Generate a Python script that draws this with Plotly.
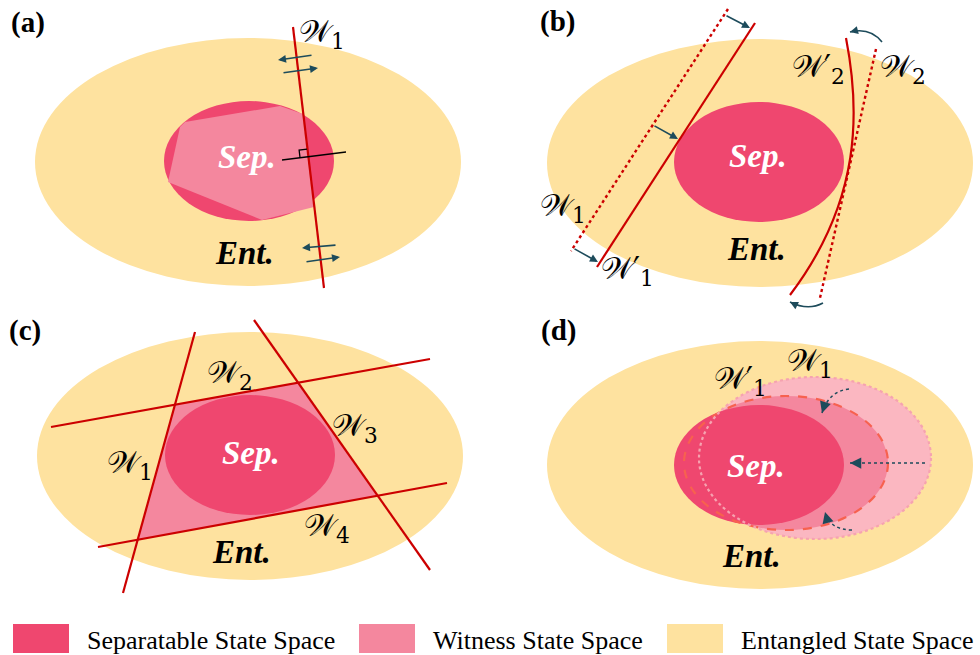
import plotly.graph_objects as go

W, H = 980, 655

# colours
SEP = "#EF476F"
WIT = "#F4879E"
ENT = "#FEE29F"
WIT_LIGHT = "#FBB7C1"
RED = "#CC0000"
TEAL = "#1D4B5B"
SERIF = "Liberation Serif"
SCRIPT = "DejaVu Serif"

# ---- geometry of the four panels (pixel space, y grows downward) ----
panel_names = ["(a)", "(b)", "(c)", "(d)"]
panel_label_xy = [(28, 22), (557, 21), (25, 330), (558, 330)]
ent_ellipses = [(248, 162, 213, 124), (760, 163, 213, 124),
                (250, 456, 213, 124), (760, 465, 213, 124)]
sep_ellipses = [(249, 161, 85, 60), (759, 162, 85, 60),
                (250, 455, 85, 60), (759, 465, 85, 60)]
sep_text_xy = [(247, 157), (758, 156), (251, 453), (756, 466)]
ent_text_xy = [(244, 253), (756, 249), (241, 552), (751, 556)]

# (a) one witness hyperplane and the witness region it cuts
a_witness_poly = [(185, 122), (280, 106), (303, 114), (314, 207),
                  (262, 220), (168, 182), (180, 127)]
a_witness_line = [(293, 27), (324, 288)]
a_normal_line = [(282, 160), (346, 152)]
a_corner = (308, 157)
a_arrows = [((313, 55), (278, 60)), ((282, 73), (318, 68)),
            ((337, 245), (302, 248)), ((305, 262), (340, 257))]

# (b) optimisation: shifting and rotating witnesses
b_w1_line = [(728, 9), (571, 251)]
b_w1p_line = [(755, 23), (597, 267)]
b_w2_line = [(876, 49), (820, 298)]
b_w2p_curve = [(846, 38), (860, 110), (862, 200), (790, 295)]
b_shift_arrows = [((725, 15), (750, 28)), ((653, 125), (678, 139)),
                  ((573, 248), (598, 262))]
b_turn_arrows = [[(882, 42), (870, 27), (850, 32)],
                 [(823, 303), (808, 311), (790, 302)]]

# (c) four witnesses bounding the separable set
c_lines = [[(195, 332), (123, 593)],   # W1
           [(51, 427), (430, 359)],    # W2
           [(254, 320), (430, 570)],   # W3
           [(98, 547), (447, 483)]]    # W4

# (d) nonlinear witness shrinking towards the separable set
d_w1_ellipse = (815, 458, 116, 81)
d_w1p_ellipse = (786, 463, 102, 67)
d_straight_arrow = ((925, 463), (850, 463))
d_curved_arrows = [[(849, 389), (829, 391), (822, 413)],
                   [(852, 530), (830, 530), (825, 512)]]

# witness labels: (text, x, y)
w_labels = [
    ("𝒲<sub>1</sub>", 322, 33),
    ("𝒲<sub>1</sub>", 563, 207),
    ("𝒲′<sub>1</sub>", 627, 270),
    ("𝒲′<sub>2</sub>", 818, 68),
    ("𝒲<sub>2</sub>", 903, 68),
    ("𝒲<sub>2</sub>", 230, 374),
    ("𝒲<sub>3</sub>", 355, 427),
    ("𝒲<sub>1</sub>", 130, 464),
    ("𝒲<sub>4</sub>", 327, 527),
    ("𝒲′<sub>1</sub>", 740, 380),
    ("𝒲<sub>1</sub>", 810, 362),
]

# legend
legend_labels = ["Separatable State Space", "Witness State Space", "Entangled State Space"]
legend_colors = [SEP, WIT, ENT]
legend_x = [13, 359, 667]


def ellipse(e, fill, line=None):
    cx, cy, rx, ry = e
    d = dict(type="circle", xref="x", yref="y",
             x0=cx - rx, x1=cx + rx, y0=cy - ry, y1=cy + ry,
             fillcolor=fill, layer="above")
    d["line"] = line if line else dict(width=0)
    return d


def poly(pts, fill):
    p = "M " + " L ".join(f"{x},{y}" for x, y in pts) + " Z"
    return dict(type="path", path=p, xref="x", yref="y",
                fillcolor=fill, line=dict(width=0), layer="above")


def seg(p, q, color, width=2.2, dash="solid"):
    return dict(type="line", xref="x", yref="y", x0=p[0], y0=p[1], x1=q[0], y1=q[1],
                line=dict(color=color, width=width, dash=dash), layer="above")


def qcurve(pts, color, width=1.6, dash="solid"):
    (x0, y0), (cx, cy), (x1, y1) = pts
    return dict(type="path", path=f"M {x0},{y0} Q {cx},{cy} {x1},{y1}",
                xref="x", yref="y", line=dict(color=color, width=width, dash=dash),
                layer="above")


def intersect(l1, l2):
    (x1, y1), (x2, y2) = l1
    (x3, y3), (x4, y4) = l2
    den = (x1 - x2) * (y3 - y4) - (y1 - y2) * (x3 - x4)
    t = ((x1 - x3) * (y3 - y4) - (y1 - y3) * (x3 - x4)) / den
    return (x1 + t * (x2 - x1), y1 + t * (y2 - y1))


shapes = []
annotations = []

# entangled backgrounds
for e in ent_ellipses:
    shapes.append(ellipse(e, ENT))

# (a)
shapes.append(ellipse(sep_ellipses[0], SEP))
shapes.append(poly(a_witness_poly, WIT))
# (b)
shapes.append(ellipse(sep_ellipses[1], SEP))
# (c) witness region = polygon of consecutive line intersections
c_quad = [intersect(c_lines[0], c_lines[1]), intersect(c_lines[1], c_lines[2]),
          intersect(c_lines[2], c_lines[3]), intersect(c_lines[3], c_lines[0])]
shapes.append(poly(c_quad, WIT))
shapes.append(ellipse(sep_ellipses[2], SEP))
# (d)
shapes.append(ellipse(d_w1_ellipse, WIT_LIGHT))
shapes.append(ellipse(d_w1p_ellipse, WIT))
shapes.append(ellipse(sep_ellipses[3], SEP))
shapes.append(ellipse(d_w1p_ellipse, "rgba(0,0,0,0)",
                      dict(color="#F7614F", width=2.2, dash="dash")))
shapes.append(ellipse(d_w1_ellipse, "rgba(0,0,0,0)",
                      dict(color="#F6A3B0", width=2.2, dash="dot")))

# (a) lines
shapes.append(seg(*a_witness_line, RED, 2.2))
shapes.append(seg(*a_normal_line, "black", 1.3))
(rx0, ry0), (rx1, ry1) = a_witness_line
(nx0, ny0), (nx1, ny1) = a_normal_line
lr = ((rx1 - rx0) ** 2 + (ry1 - ry0) ** 2) ** 0.5
ln = ((nx1 - nx0) ** 2 + (ny1 - ny0) ** 2) ** 0.5
ur = (-(rx1 - rx0) / lr, -(ry1 - ry0) / lr)
un = (-(nx1 - nx0) / ln, -(ny1 - ny0) / ln)
s = 8
A = (a_corner[0] + s * ur[0], a_corner[1] + s * ur[1])
B = (a_corner[0] + s * un[0], a_corner[1] + s * un[1])
C = (A[0] + B[0] - a_corner[0], A[1] + B[1] - a_corner[1])
shapes.append(dict(type="path", xref="x", yref="y",
                   path=f"M {A[0]},{A[1]} L {C[0]},{C[1]} L {B[0]},{B[1]}",
                   line=dict(color="black", width=1.3), layer="above"))

# (b) lines
shapes.append(seg(*b_w1_line, RED, 2.4, "dot"))
shapes.append(seg(*b_w1p_line, RED, 2.2))
shapes.append(seg(*b_w2_line, RED, 2.4, "dot"))
(p0, p1, p2, p3) = b_w2p_curve
shapes.append(dict(type="path", xref="x", yref="y",
                   path=f"M {p0[0]},{p0[1]} C {p1[0]},{p1[1]} {p2[0]},{p2[1]} {p3[0]},{p3[1]}",
                   line=dict(color=RED, width=2.2), layer="above"))
for arc in b_turn_arrows:
    shapes.append(qcurve(arc, TEAL, 1.6))

# (c) lines
for ln_ in c_lines:
    shapes.append(seg(*ln_, RED, 2.2))

# (d) dotted arrows
shapes.append(seg(*d_straight_arrow, TEAL, 1.5, "dot"))
for arc in d_curved_arrows:
    shapes.append(qcurve(arc, TEAL, 1.5, "dot"))

# legend swatches
for x, c in zip(legend_x, legend_colors):
    shapes.append(dict(type="rect", xref="x", yref="y", x0=x, x1=x + 56, y0=624, y1=653,
                       fillcolor=c, line=dict(width=0), layer="above"))


def arrow(tail, head, size=1.0, width=1.6):
    annotations.append(dict(x=head[0], y=head[1], ax=tail[0], ay=tail[1],
                            xref="x", yref="y", axref="x", ayref="y", text="",
                            showarrow=True, arrowhead=2, arrowsize=size,
                            arrowwidth=width, arrowcolor=TEAL, standoff=0))


for t, h in a_arrows:
    arrow(t, h)
for t, h in b_shift_arrows:
    arrow(t, h)
for arc in b_turn_arrows:
    (cx, cy), (ex, ey) = arc[1], arc[2]
    arrow((ex + 0.35 * (cx - ex), ey + 0.35 * (cy - ey)), (ex, ey))
arrow((d_straight_arrow[1][0] + 8, d_straight_arrow[1][1]), d_straight_arrow[1], 1.5, 1.5)
for arc in d_curved_arrows:
    (cx, cy), (ex, ey) = arc[1], arc[2]
    arrow((ex + 0.4 * (cx - ex), ey + 0.4 * (cy - ey)), (ex, ey), 1.5, 1.5)


def text(t, x, y, size, color="black", family=SERIF, xanchor="center"):
    annotations.append(dict(x=x, y=y, xref="x", yref="y", text=t, showarrow=False,
                            xanchor=xanchor, yanchor="middle",
                            font=dict(family=family, size=size, color=color)))


for name, (x, y) in zip(panel_names, panel_label_xy):
    text(f"<b>{name}</b>", x, y, 29)
for x, y in sep_text_xy:
    text("<b><i>Sep.</i></b>", x, y, 33, "white")
for x, y in ent_text_xy:
    text("<b><i>Ent.</i></b>", x, y, 33, "black")
for t, x, y in w_labels:
    text(t, x, y, 31, "black", SCRIPT)
for x, lab in zip(legend_x, legend_labels):
    text(lab, x + 72, 640, 26, "black", SERIF, "left")

fig = go.Figure()
fig.update_layout(
    width=W, height=H, autosize=False,
    margin=dict(l=0, r=0, t=0, b=0, pad=0),
    paper_bgcolor="white", plot_bgcolor="white",
    xaxis=dict(range=[0, W], visible=False, fixedrange=True),
    yaxis=dict(range=[H, 0], visible=False, fixedrange=True),
    shapes=shapes, annotations=annotations, showlegend=False,
)
fig.write_html("out.html", config={"displayModeBar": False})
